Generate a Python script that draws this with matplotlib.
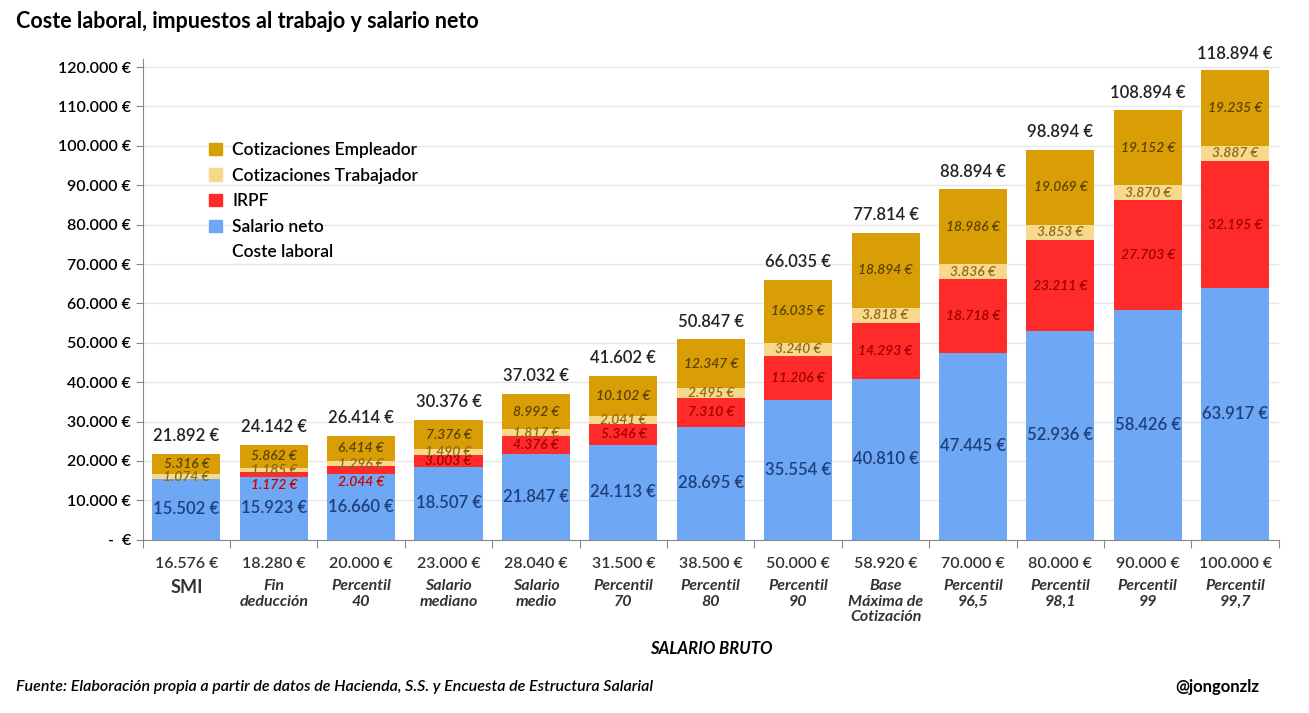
import matplotlib.pyplot as plt
import matplotlib.transforms as mtransforms
from matplotlib.patches import Patch
import numpy as np

plt.rcParams['font.family'] = ['Lato', 'DejaVu Sans']
plt.rcParams['font.weight'] = 'semibold'

# datos
bruto = ["16.576 €", "18.280 €", "20.000 €", "23.000 €", "28.040 €", "31.500 €", "38.500 €",
         "50.000 €", "58.920 €", "70.000 €", "80.000 €", "90.000 €", "100.000 €"]
etiquetas = ["SMI", "Fin\ndeducción", "Percentil\n40", "Salario\nmediano", "Salario\nmedio",
             "Percentil\n70", "Percentil\n80", "Percentil\n90", "Base\nMáxima de\nCotización",
             "Percentil\n96,5", "Percentil\n98,1", "Percentil\n99", "Percentil\n99,7"]
neto = [15502, 15923, 16660, 18507, 21847, 24113, 28695, 35554, 40810, 47445, 52936, 58426, 63917]
irpf = [0, 1172, 2044, 3003, 4376, 5346, 7310, 11206, 14293, 18718, 23211, 27703, 32195]
cot_trab = [1074, 1185, 1296, 1490, 1817, 2041, 2495, 3240, 3818, 3836, 3853, 3870, 3887]
cot_emp = [5316, 5862, 6414, 7376, 8992, 10102, 12347, 16035, 18894, 18986, 19069, 19152, 19235]
coste = [21892, 24142, 26414, 30376, 37032, 41602, 50847, 66035, 77814, 88894, 98894, 108894, 118894]

def fmt(v):
    return f"{v:,.0f} €".replace(",", ".")

c_neto, c_irpf, c_trab, c_emp = "#6EA8F5", "#FF2B2B", "#F8D88C", "#D99E06"

fig = plt.figure(figsize=(13.09, 7.13), dpi=100)
ax = fig.add_axes([0.109, 0.243, 0.868, 0.674])

x = np.arange(len(neto))
w = 0.78
neto_a, irpf_a, trab_a, emp_a = map(np.array, (neto, irpf, cot_trab, cot_emp))
ax.bar(x, neto_a, w, color=c_neto)
ax.bar(x, irpf_a, w, bottom=neto_a, color=c_irpf)
ax.bar(x, trab_a, w, bottom=neto_a + irpf_a, color=c_trab)
ax.bar(x, emp_a, w, bottom=neto_a + irpf_a + trab_a, color=c_emp)

for i in x:
    ax.text(i, neto[i] / 2, fmt(neto[i]), ha="center", va="center", fontsize=12, color="#1F3F7A")
    if irpf[i] > 0:
        if irpf[i] < 2500:
            ax.text(i, neto[i] - 600, fmt(irpf[i]), ha="center", va="top", fontsize=10,
                    style="italic", color="#D00000")
        else:
            ax.text(i, neto[i] + irpf[i] / 2, fmt(irpf[i]), ha="center", va="center", fontsize=10,
                    style="italic", color="#A00000")
    b = neto[i] + irpf[i]
    ax.text(i, b + cot_trab[i] / 2, fmt(cot_trab[i]), ha="center", va="center", fontsize=10,
            style="italic", color="#8A6D10")
    b += cot_trab[i]
    ax.text(i, b + cot_emp[i] / 2, fmt(cot_emp[i]), ha="center", va="center", fontsize=10,
            style="italic", color="#5A4300")
    ax.text(i, coste[i] + 2500, fmt(coste[i]), ha="center", va="bottom", fontsize=12, color="#222222")

ax.set_ylim(0, 122000)
ax.set_xlim(-0.5, len(neto) - 0.5)
ax.set_yticks(np.arange(0, 120001, 10000))
ax.set_yticklabels(["-  €"] + [fmt(v) for v in range(10000, 120001, 10000)], fontsize=11.5)
ax.grid(axis="y", color="#E6E6E6", linewidth=1)
ax.set_axisbelow(True)
for s in ["top", "right"]:
    ax.spines[s].set_visible(False)
ax.spines["left"].set_color("#888888")
ax.spines["bottom"].set_color("#888888")
ax.tick_params(axis="y", length=5, color="#888888")
ax.set_xticks(np.arange(-0.5, len(neto), 1))
ax.set_xticklabels([])
ax.tick_params(axis="x", length=6, color="#888888")

trans = mtransforms.blended_transform_factory(ax.transData, ax.transAxes)
for i in x:
    ax.text(i, -0.035, bruto[i], transform=trans, ha="center", va="top", fontsize=11.5, color="#333333")
    if i == 0:
        ax.text(i, -0.082, etiquetas[i], transform=trans, ha="center", va="top", fontsize=13,
                weight="bold", color="#333333")
    else:
        ax.text(i, -0.082, etiquetas[i], transform=trans, ha="center", va="top", fontsize=11.5,
                style="italic", weight="bold", color="#333333", linespacing=1.15)

ax.text(0.5, -0.21, "SALARIO BRUTO", transform=ax.transAxes, ha="center", va="top",
        fontsize=12, style="italic", weight="bold")

handles = [Patch(color=c_emp), Patch(color=c_trab), Patch(color=c_irpf), Patch(color=c_neto),
           Patch(color="none")]
labels = ["Cotizaciones Empleador", "Cotizaciones Trabajador", "IRPF", "Salario neto", "Coste laboral"]
ax.legend(handles, labels, loc="upper left", bbox_to_anchor=(0.045, 0.86), frameon=False,
          fontsize=12.5, handlelength=0.7, handleheight=0.7, handletextpad=0.6, labelspacing=0.55)

fig.text(0.012, 0.97, "Coste laboral, impuestos al trabajo y salario neto", fontsize=15.5,
         weight="bold", va="center")
fig.text(0.012, 0.036, "Fuente: Elaboración propia a partir de datos de Hacienda, S.S. y Encuesta de Estructura Salarial",
         fontsize=11.5, style="italic", va="center")
fig.text(0.962, 0.036, "@jongonzlz", fontsize=12, weight="bold", ha="right", va="center")

fig.savefig("out.png", dpi=100)
